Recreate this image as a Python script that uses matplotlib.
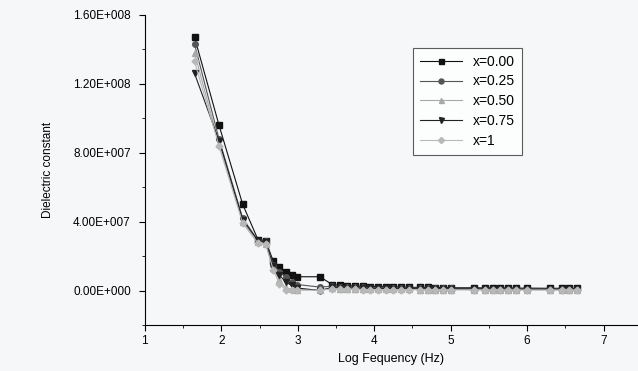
import numpy as np
import matplotlib.pyplot as plt
from matplotlib.ticker import MultipleLocator, FuncFormatter

plt.rcParams["font.family"] = ["Liberation Sans", "DejaVu Sans"]

# log frequency points
logf = [1.65, 1.97, 2.28, 2.48, 2.58, 2.68, 2.76, 2.84, 2.92, 2.99, 3.29,
        3.45, 3.55, 3.65, 3.75, 3.85, 3.95, 4.05, 4.15, 4.25, 4.35, 4.45,
        4.6, 4.7, 4.8, 4.9, 5.0, 5.3, 5.45, 5.55, 5.65, 5.75, 5.85, 6.0,
        6.3, 6.45, 6.55, 6.65]

x000 = [1.47e8, 9.6e7, 5.0e7, 2.95e7, 2.9e7, 1.7e7, 1.35e7, 1.05e7, 9.0e6, 8.0e6, 8.0e6,
        3.5e6, 3.0e6, 2.8e6, 2.6e6, 2.4e6, 2.3e6, 2.2e6, 2.1e6, 2.0e6, 2.0e6, 1.9e6,
        1.8e6, 1.8e6, 1.7e6, 1.7e6, 1.6e6, 1.6e6, 1.5e6, 1.5e6, 1.5e6, 1.4e6, 1.4e6, 1.4e6,
        1.3e6, 1.3e6, 1.3e6, 1.2e6]
x025 = [1.43e8, 8.8e7, 4.2e7, 2.9e7, 2.85e7, 1.5e7, 1.1e7, 8.0e6, 5.0e6, 3.5e6, 2.0e6,
        2.5e6, 2.2e6, 2.0e6, 1.9e6, 1.8e6, 1.7e6, 1.6e6, 1.5e6, 1.5e6, 1.4e6, 1.4e6,
        1.3e6, 1.3e6, 1.2e6, 1.2e6, 1.2e6, 1.1e6, 1.1e6, 1.1e6, 1.0e6, 1.0e6, 1.0e6, 1.0e6,
        0.9e6, 0.9e6, 0.9e6, 0.9e6]
x050 = [1.38e8, 8.5e7, 4.0e7, 2.8e7, 2.7e7, 1.3e7, 6.0e6, 1.5e6, 8.0e5, 6.0e5, 5.0e5,
        1.2e6, 1.0e6, 9.0e5, 9.0e5, 8.0e5, 8.0e5, 8.0e5, 7.0e5, 7.0e5, 7.0e5, 7.0e5,
        6.0e5, 6.0e5, 6.0e5, 6.0e5, 6.0e5, 5.0e5, 5.0e5, 5.0e5, 5.0e5, 5.0e5, 5.0e5, 5.0e5,
        4.0e5, 4.0e5, 4.0e5, 4.0e5]
x075 = [1.26e8, 8.7e7, 4.1e7, 2.9e7, 2.8e7, 1.4e7, 9.0e6, 5.0e6, 3.0e6, 1.5e6, 0.0,
        1.8e6, 1.6e6, 1.5e6, 1.4e6, 1.3e6, 1.3e6, 1.2e6, 1.2e6, 1.1e6, 1.1e6, 1.1e6,
        1.0e6, 1.0e6, 1.0e6, 1.0e6, 9.0e5, 9.0e5, 9.0e5, 9.0e5, 9.0e5, 8.0e5, 8.0e5, 8.0e5,
        8.0e5, 8.0e5, 8.0e5, 8.0e5]
x100 = [1.33e8, 8.4e7, 3.9e7, 2.75e7, 2.7e7, 1.2e7, 4.0e6, 5.0e5, 3.0e5, 2.0e5, 2.0e5,
        9.0e5, 8.0e5, 7.0e5, 7.0e5, 6.0e5, 6.0e5, 6.0e5, 5.0e5, 5.0e5, 5.0e5, 5.0e5,
        5.0e5, 4.0e5, 4.0e5, 4.0e5, 4.0e5, 4.0e5, 3.0e5, 3.0e5, 3.0e5, 3.0e5, 3.0e5, 3.0e5,
        3.0e5, 3.0e5, 3.0e5, 3.0e5]

series = [("x=0.00", x000, "s", "#111111"),
          ("x=0.25", x025, "o", "#555555"),
          ("x=0.50", x050, "^", "#a8a8a8"),
          ("x=0.75", x075, "v", "#222222"),
          ("x=1", x100, "D", "#b8b8b8")]

fig = plt.figure(figsize=(6.38, 3.71), dpi=100)
fig.patch.set_facecolor("#f5f7f9")
ax = fig.add_axes([0.227, 0.124, 0.773, 0.836])
ax.set_facecolor("#f5f7f9")

for name, vals, mk, col in series:
    ax.plot(logf, vals, marker=mk, color=col, markersize=4 if mk != "D" else 3.5,
            linewidth=0.8, label=name)

ax.set_xlim(1, 7.45)
ax.set_ylim(-2e7, 1.6e8)
ax.spines["top"].set_visible(False)
ax.spines["right"].set_visible(False)
ax.xaxis.set_major_locator(MultipleLocator(1))
ax.xaxis.set_minor_locator(MultipleLocator(0.5))
ax.yaxis.set_major_locator(MultipleLocator(4e7))
ax.yaxis.set_minor_locator(MultipleLocator(2e7))


def efmt(v, pos):
    m, e = f"{v:.2E}".split("E")
    sign = e[0]
    return f"{m}E{sign}{int(e[1:]):03d}"


ax.yaxis.set_major_formatter(FuncFormatter(efmt))
ax.tick_params(axis="both", which="major", labelsize=8.5, length=4, width=0.8, direction="out")
ax.tick_params(axis="y", which="major", pad=6)
ax.tick_params(axis="both", which="minor", length=2, width=0.6, direction="out")

ax.set_xlabel("Log Fequency (Hz)", fontsize=9, labelpad=4)
ax.set_ylabel("Dielectric constant", fontsize=8.5, labelpad=14)

leg = ax.legend(loc="upper left", bbox_to_anchor=(0.544, 0.894), borderaxespad=0,
                fontsize=10, frameon=True, fancybox=False, edgecolor="#333333",
                handlelength=3.0, borderpad=0.5, labelspacing=0.42, markerscale=0.9)
leg.get_frame().set_linewidth(0.8)
leg.get_frame().set_facecolor("white")

fig.savefig("out.png", dpi=100, facecolor=fig.get_facecolor())
